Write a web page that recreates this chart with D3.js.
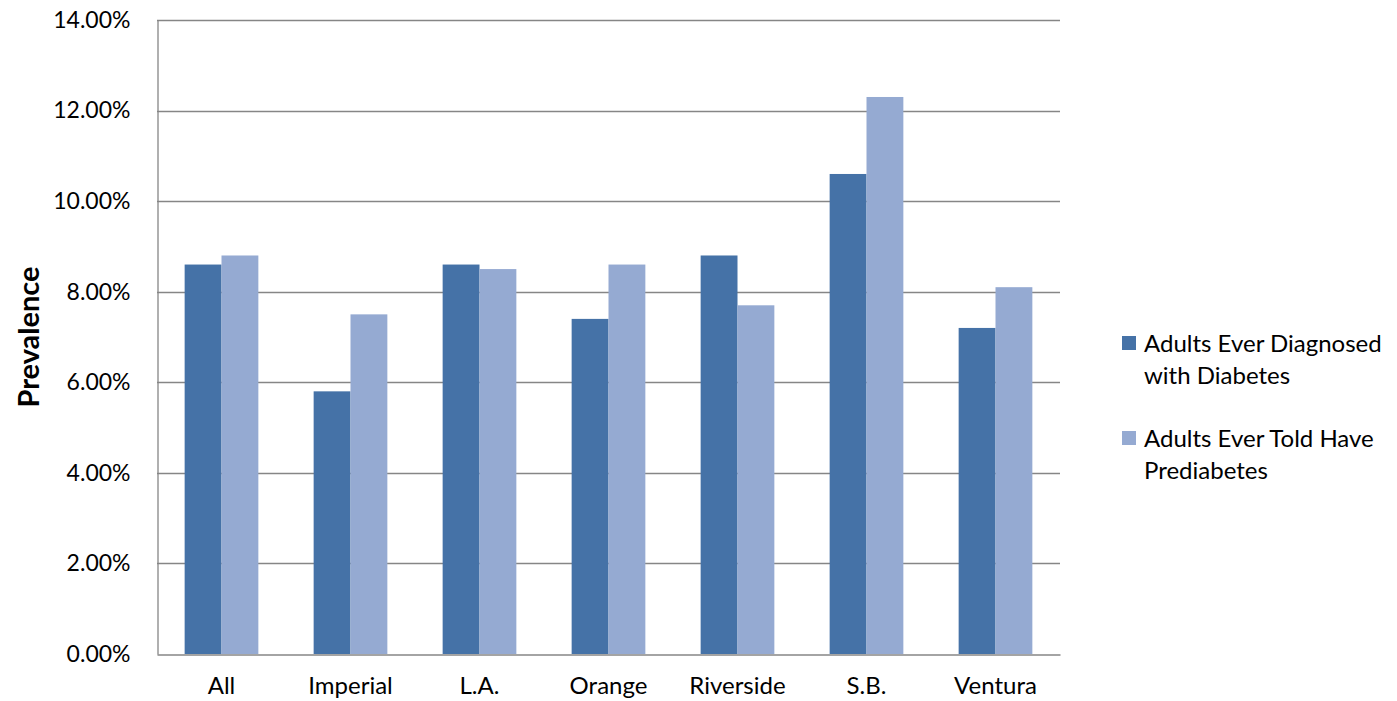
<!DOCTYPE html>
<html>
<head>
<meta charset="utf-8">
<script src="https://cdn.jsdelivr.net/npm/d3@7"></script>
<style>
  body { margin: 0; background: #fff; }
  svg text { font-family: Lato, "Open Sans", sans-serif; fill: #000; }
</style>
</head>
<body>
<script>
const width = 1397;
const height = 701;

const categories = ['All', 'Imperial', 'L.A.', 'Orange', 'Riverside', 'S.B.', 'Ventura'];
const seriesNames = [['Adults Ever Diagnosed', 'with Diabetes'], ['Adults Ever Told Have', 'Prediabetes']];
const diagnosed = [8.6, 5.8, 8.6, 7.4, 8.8, 10.6, 7.2];
const prediabetes = [8.8, 7.5, 8.5, 8.6, 7.7, 12.3, 8.1];
const yTicks = [0, 2, 4, 6, 8, 10, 12, 14];
const colors = ['#4572a7', '#95aad2'];

const margin = { left: 157, right: 337, top: 20, bottom: 47 };

const svg = d3.select('body')
    .append('svg')
    .attr('width', width)
    .attr('height', height);

const x = d3.scaleBand()
    .domain(categories)
    .range([margin.left, width - margin.right])
    .paddingInner(0)
    .paddingOuter(0);

const inner = d3.scaleBand()
    .domain([0, 1])
    .range([0, x.bandwidth()])
    .paddingInner(0)
    .paddingOuter(0.75);

const y = d3.scaleLinear()
    .domain([0, 14])
    .range([height - margin.bottom, margin.top]);

// gridlines
svg.append('g')
    .selectAll('line')
    .data(yTicks.slice(1))
    .enter()
    .append('line')
    .attr('x1', margin.left)
    .attr('x2', width - margin.right)
    .attr('y1', d => Math.round(y(d)) + 0.5)
    .attr('y2', d => Math.round(y(d)) + 0.5)
    .attr('stroke', '#868686')
    .attr('stroke-width', 1.3);

// bars
const series = [diagnosed, prediabetes];
series.forEach((vals, s) => {
    svg.append('g')
        .selectAll('rect')
        .data(vals)
        .enter()
        .append('rect')
        .attr('x', (d, i) => x(categories[i]) + inner(s))
        .attr('y', d => y(d))
        .attr('width', inner.bandwidth())
        .attr('height', d => y(0) - y(d))
        .attr('fill', colors[s]);
});

// axes
const yAxis = d3.axisLeft(y)
    .tickValues(yTicks)
    .tickSize(0)
    .tickPadding(27)
    .tickFormat(d => d.toFixed(2) + '%');
const gy = svg.append('g')
    .attr('transform', `translate(${margin.left + 0.5}, 0)`)
    .call(yAxis);
gy.select('.domain').attr('stroke', '#868686').attr('stroke-width', 1.3);
gy.selectAll('text').style('font-size', '23px').attr('fill', '#000');

const xAxis = d3.axisBottom(x).tickSize(0).tickPadding(22);
const gx = svg.append('g')
    .attr('transform', `translate(0, ${Math.round(y(0)) + 0.5})`)
    .call(xAxis);
gx.select('.domain').attr('stroke', '#868686').attr('stroke-width', 1.3);
gx.selectAll('text').style('font-size', '24px').attr('fill', '#000');

// y title
svg.append('text')
    .attr('transform', `translate(39, ${(y(0) + y(14)) / 2}) rotate(-90)`)
    .attr('text-anchor', 'middle')
    .style('font-size', '29px')
    .style('font-weight', 'bold')
    .text('Prevalence');

// legend
const legend = svg.append('g').attr('id', 'legend');
seriesNames.forEach((lines, s) => {
    const ly = 336 + s * 95;
    legend.append('rect')
        .attr('x', 1122)
        .attr('y', ly)
        .attr('width', 14)
        .attr('height', 14)
        .attr('fill', colors[s]);
    lines.forEach((t, j) => {
        legend.append('text')
            .attr('x', 1144)
            .attr('y', ly + 16 + j * 32)
            .style('font-size', '24px')
            .text(t);
    });
});
</script>
</body>
</html>
